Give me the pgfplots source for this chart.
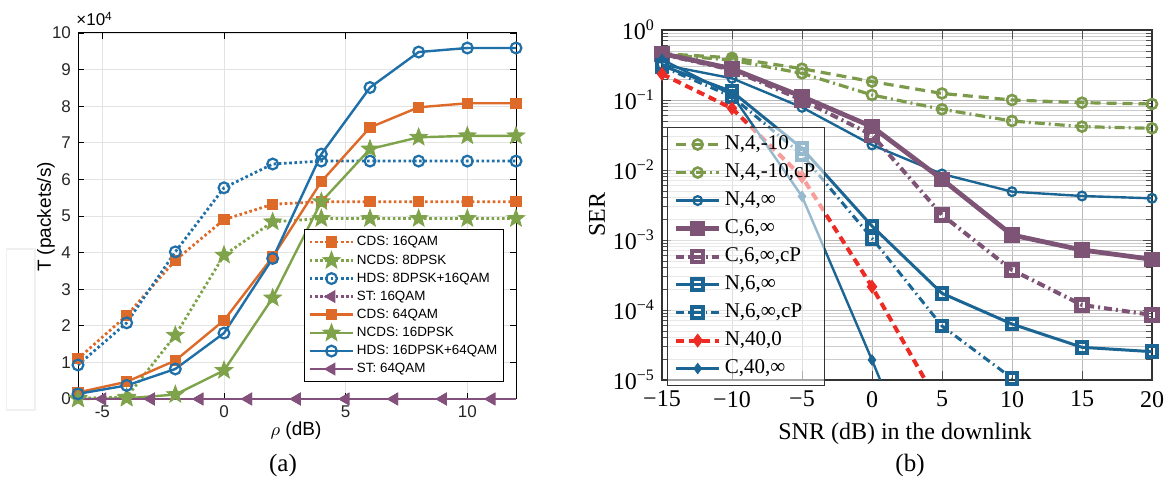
\documentclass[border=0pt]{standalone}
\usepackage{pgfplots}
\usepackage{pgfplotstable}
\pgfplotsset{compat=1.18}
\usepackage{fontspec}
\setmainfont{Liberation Serif}
\newfontfamily\sansf{Liberation Sans}

\definecolor{corange}{HTML}{DE6A2A}
\definecolor{cgreen}{HTML}{7EA34A}
\definecolor{cblue}{HTML}{1F6FA8}
\definecolor{cpurple}{HTML}{84507C}
\definecolor{rgreen}{HTML}{7C9B4A}
\definecolor{rblue}{HTML}{1A6593}
\definecolor{rpurple}{HTML}{7D5476}
\definecolor{rred}{HTML}{EE2A24}

\pgfdeclareplotmark{fstar}{%
 \pgfpathmoveto{\pgfpointpolar{90}{\pgfplotmarksize}}%
 \pgfpathlineto{\pgfpointpolar{126}{0.42\pgfplotmarksize}}%
 \pgfpathlineto{\pgfpointpolar{162}{\pgfplotmarksize}}%
 \pgfpathlineto{\pgfpointpolar{198}{0.42\pgfplotmarksize}}%
 \pgfpathlineto{\pgfpointpolar{234}{\pgfplotmarksize}}%
 \pgfpathlineto{\pgfpointpolar{270}{0.42\pgfplotmarksize}}%
 \pgfpathlineto{\pgfpointpolar{306}{\pgfplotmarksize}}%
 \pgfpathlineto{\pgfpointpolar{342}{0.42\pgfplotmarksize}}%
 \pgfpathlineto{\pgfpointpolar{18}{\pgfplotmarksize}}%
 \pgfpathlineto{\pgfpointpolar{54}{0.42\pgfplotmarksize}}%
 \pgfpathclose
 \pgfusepathqfillstroke
}

% Left panel: throughput in units of 10^4 packets/s
\pgfplotstableread{
x   cds16 ncds8 hds816 cds64 ncds16 hds1664
-6  1.10  0.02  0.93   0.18  0.00   0.14
-4  2.28  0.05  2.08   0.47  0.02   0.37
-2  3.79  1.74  4.02   1.05  0.12   0.82
0   4.90  3.93  5.77   2.15  0.78   1.80
2   5.32  4.84  6.42   3.88  2.76   3.84
4   5.39  4.93  6.50   5.94  5.39   6.69
6   5.39  4.93  6.50   7.42  6.83   8.51
8   5.39  4.93  6.50   7.97  7.15   9.48
10  5.39  4.93  6.50   8.08  7.19   9.59
12  5.39  4.93  6.50   8.08  7.19   9.59
}\tabA
\pgfplotstableread{
x y
-6 0
-5 0
-3 0
-1 0
1 0
3 0
5 0
7 0
9 0
11 0
12 0
}\tabST

% Right panel: SER
\pgfplotstableread{
x   n410   n410cp  n4inf    c6inf    c6infcp   n6inf
-15 0.46   0.45    0.32     0.46     0.45      0.31
-10 0.40   0.37    0.204    0.28     0.27      0.132
-5  0.28   0.24    0.0785   0.112    0.100     0.0204
0   0.183  0.118   0.0228   0.0416   0.0316    0.00158
5   0.124  0.0736  0.00877  0.00736  0.00228   0.000173
10  0.100  0.0501  0.0049   0.00118  0.000373  0.000063
15  0.0916 0.0416  0.00425  0.00072  0.000118  0.0000293
20  0.0877 0.0394  0.00394  0.00053  0.000085  0.0000254
}\tabB
\pgfplotstableread{
x   y
-15 0.30
-10 0.112
-5  0.0165
0   0.00106
5   0.000059
10  0.0000106
}\tabNsixcp
\pgfplotstableread{
x   y
-15 0.235
-10 0.076
-5  0.008
0   0.000215
5   0.0000038
}\tabNforty
\pgfplotstableread{
x   y
-15 0.38
-10 0.118
-5  0.0042
0   0.0000193
5   0.00000007
}\tabCforty

\begin{document}
\begin{tikzpicture}[x=1pt,y=1pt]
\useasboundingbox (0,0) rectangle (584.5,248);
\draw[gray!12, line width=0.6pt] (3.2,43) rectangle (17.5,123.5);

\begin{axis}[
  at={(39pt,48.5pt)}, anchor=south west,
  scale only axis, width=219pt, height=183pt,
  xmin=-6, xmax=12, ymin=0, ymax=10,
  xtick={-5,0,5,10}, ytick={0,1,...,10},
  grid=major, major grid style={gray!22, line width=0.4pt},
  axis line style={black, line width=0.5pt},
  tick style={black, line width=0.4pt}, major tick length=3pt,
  tick label style={font=\sansf\fontsize{8.5}{10}\selectfont, text=black!85},
  /pgf/number format/assume math mode=true,
  clip=false,
  legend style={at={(0.973,0.046)}, anchor=south east,
    font=\sansf\fontsize{6.7}{7}\selectfont, draw=black, fill=white,
    row sep=0.3pt, nodes={text height=5pt, text depth=1.3pt, inner sep=1.2pt},
    inner xsep=2pt, inner ysep=2pt},
  legend cell align=left,
  legend image code/.code={\draw[#1, mark indices={2}] plot coordinates {(0pt,0pt) (10.85pt,0pt) (21.7pt,0pt)};},
]
\addplot[corange, line width=1.4pt, dash pattern=on 1.3pt off 1.3pt, mark=square*, mark size=2.6pt, mark options={solid, line width=0.5pt}] table[x=x,y=cds16]{\tabA};
\addlegendentry{CDS: 16QAM}
\addplot[cgreen, line width=1.4pt, dash pattern=on 1.3pt off 1.3pt, mark=fstar, mark size=4.6pt, mark options={solid, line width=0.4pt, fill=cgreen}] table[x=x,y=ncds8]{\tabA};
\addlegendentry{NCDS: 8DPSK}
\addplot[cblue, line width=1.4pt, dash pattern=on 1.3pt off 1.3pt, mark=o, mark size=2.7pt, mark options={solid, line width=1.1pt}] table[x=x,y=hds816]{\tabA};
\addlegendentry{HDS: 8DPSK+16QAM}
\addplot[cpurple, line width=1.4pt, dash pattern=on 1.3pt off 1.3pt, mark=triangle*, mark size=3.4pt, mark indices={2,3,4,5,6,7,8,9,10}, mark options={solid, rotate=90, line width=0.4pt}] table[x=x,y=y]{\tabST};
\addlegendentry{ST: 16QAM}
\addplot[corange, line width=1.2pt, mark=square*, mark size=2.6pt, mark options={line width=0.5pt}] table[x=x,y=cds64]{\tabA};
\addlegendentry{CDS: 64QAM}
\addplot[cgreen, line width=1.2pt, mark=fstar, mark size=4.6pt, mark options={line width=0.4pt, fill=cgreen}] table[x=x,y=ncds16]{\tabA};
\addlegendentry{NCDS: 16DPSK}
\addplot[cblue, line width=1.2pt, mark=o, mark size=2.7pt, mark options={line width=1.1pt}] table[x=x,y=hds1664]{\tabA};
\addlegendentry{HDS: 16DPSK+64QAM}
\addplot[cpurple, line width=1.2pt, mark=triangle*, mark size=3.4pt, mark indices={2,3,4,5,6,7,8,9,10}, mark options={rotate=90, line width=0.4pt}] table[x=x,y=y]{\tabST};
\addlegendentry{ST: 64QAM}
\end{axis}

\begin{axis}[
  at={(331pt,58pt)}, anchor=south west,
  scale only axis, width=245pt, height=175pt,
  xmin=-15, xmax=20, ymin=1e-5, ymax=1, ymode=log,
  xtick={-15,-10,-5,0,5,10,15,20},
  xticklabels={−15,−10,−5,0,5,10,15,20},
  xticklabel style={yshift=-2pt},
  ytick={1e-5,1e-4,1e-3,1e-2,1e-1,1},
  yticklabels={10\textsuperscript{−5},10\textsuperscript{−4},10\textsuperscript{−3},10\textsuperscript{−2},10\textsuperscript{−1},10\textsuperscript{0}},
  minor ytick={2e-5,3e-5,4e-5,5e-5,6e-5,7e-5,8e-5,9e-5,2e-4,3e-4,4e-4,5e-4,6e-4,7e-4,8e-4,9e-4,2e-3,3e-3,4e-3,5e-3,6e-3,7e-3,8e-3,9e-3,2e-2,3e-2,4e-2,5e-2,6e-2,7e-2,8e-2,9e-2,0.2,0.3,0.4,0.5,0.6,0.7,0.8,0.9},
  grid=both, major grid style={gray!55, line width=0.45pt}, minor grid style={gray!40, line width=0.35pt},
  axis line style={black!80, line width=0.6pt},
  tick style={black!70, line width=0.4pt},
  tick label style={font=\fontsize{12}{14}\selectfont},
  clip mode=individual,
  legend style={at={(0.0102,0.723)}, anchor=north west,
    font=\fontsize{10.5}{12}\selectfont, draw=black!80, line width=0.6pt,
    fill=white, fill opacity=0.55, draw opacity=1, text opacity=1,
    row sep=1pt, nodes={text height=7.5pt, text depth=2.5pt, inner sep=1.5pt},
    inner xsep=3pt, inner ysep=2pt},
  legend cell align=left,
  legend image code/.code={\draw[opacity=1, #1, mark indices={2}] plot coordinates {(0pt,0pt) (10.85pt,0pt) (21.7pt,0pt)};},
]
\addplot[rgreen, line width=1.6pt, dash pattern=on 5pt off 3pt, mark=o, mark size=2.5pt, mark options={solid, line width=1.3pt}] table[x=x,y=n410]{\tabB};
\addlegendentry{N,4,-10}
\addplot[rgreen, line width=1.6pt, dash pattern=on 5pt off 2pt on 1pt off 2pt, mark=o, mark size=2.5pt, mark options={solid, line width=1.3pt}] table[x=x,y=n410cp]{\tabB};
\addlegendentry{N,4,-10,cP}
\addplot[rblue, line width=1.2pt, mark=o, mark size=2.2pt, mark options={line width=1.1pt}] table[x=x,y=n4inf]{\tabB};
\addlegendentry{N,4,∞}
\addplot[rpurple, line width=2.4pt, mark=square*, mark size=3.5pt, mark options={line width=0.6pt}] table[x=x,y=c6inf]{\tabB};
\addlegendentry{C,6,∞}
\addplot[rpurple, line width=2pt, dash pattern=on 4pt off 2pt on 1pt off 2pt, mark=square, mark size=2.7pt, mark options={solid, line width=2.2pt}] table[x=x,y=c6infcp]{\tabB};
\addlegendentry{C,6,∞,cP}
\addplot[rblue, line width=1.5pt, mark=square, mark size=2.7pt, mark options={line width=2pt}] table[x=x,y=n6inf]{\tabB};
\addlegendentry{N,6,∞}
\addplot[rblue, line width=1.5pt, dash pattern=on 4pt off 2pt on 0.8pt off 2pt, mark=square, mark size=2.7pt, mark options={solid, line width=2pt}] table[x=x,y=y]{\tabNsixcp};
\addlegendentry{N,6,∞,cP}
\addplot[rred, line width=2pt, dash pattern=on 4pt off 2.5pt, mark=diamond*, mark size=3.2pt, mark indices={1,2,3,4}, mark options={solid, line width=0.4pt}] table[x=x,y=y]{\tabNforty};
\addlegendentry{N,40,0}
\addplot[rblue, line width=1.2pt, mark=diamond*, mark size=2.6pt, mark indices={1,2,3,4}, mark options={line width=0.4pt}] table[x=x,y=y]{\tabCforty};
\addlegendentry{C,40,∞}
\end{axis}

\node[rotate=90, font=\sansf\fontsize{9.5}{11}\selectfont] at (23,139.5) {T (packets/s)};
\node[font=\sansf\fontsize{9.5}{11}\selectfont] at (148,32.5) {$\rho$ (dB)};
\node[anchor=west, font=\sansf\fontsize{8.5}{10}\selectfont, inner sep=0pt] at (38,238.5) {×10\textsuperscript{4}};
\node[rotate=90, font=\fontsize{12}{14}\selectfont] at (298.5,140.5) {SER};
\node[font=\fontsize{12}{14}\selectfont] at (452.5,31) {SNR (dB) in the downlink};
\node[font=\fontsize{12.5}{14}\selectfont] at (141.5,15.5) {(a)};
\node[font=\fontsize{12.5}{14}\selectfont] at (455,15.5) {(b)};
\end{tikzpicture}
\end{document}
